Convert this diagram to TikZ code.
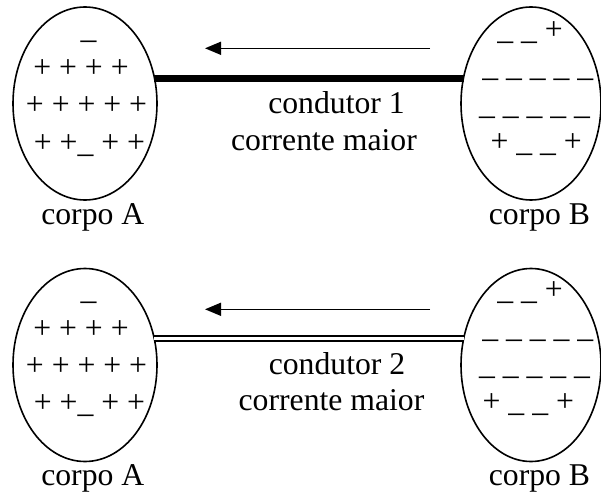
\documentclass[tikz,border=0pt]{standalone}
\usepackage{fontspec}
\setmainfont{Liberation Serif}
\usetikzlibrary{arrows.meta,shapes.geometric}
\begin{document}
\begin{tikzpicture}[x=1pt,y=-1pt,
  font=\fontsize{31.7}{38}\selectfont,
  body/.style={draw,ellipse,line width=1.6pt,inner sep=0pt,outer sep=0pt},
  bodyA/.style={body,minimum width=144pt,minimum height=193pt},
  bodyB/.style={body,minimum width=140pt,minimum height=193pt},
  txt/.style={anchor=base,inner sep=0pt,outer sep=0pt},
  flow/.style={line width=1.5pt,-{Triangle[length=16pt,width=13pt]}},
  thickwire/.style={line width=7pt},
  doublewire/.style={double,line width=2.2pt,double distance=3.2pt}]
\useasboundingbox (0,0) rectangle (601,497);

% ---------- top panel ----------
\node[bodyA] (A1) at (85,103.5) {};
\node[bodyB] (B1) at (531,103.5) {};
\node[txt] (a1r0) at (88.5,39) {\_};
\node[txt] (a1r1) at (81,78) {+ + + +};
\node[txt] (a1r2) at (86.5,115) {+ + + + +};
\node[txt] (a1r3) at (89.5,152) {+ +\_ + +};
\node[txt] (b1r0) at (530,39.3) {\_ \_ +};
\node[txt] (b1r1) at (537.8,77) {\_ \_ \_ \_ \_};
\node[txt] (b1r2) at (534.5,114.3) {\_ \_ \_ \_ \_};
\node[txt] (b1r3) at (536.2,151) {+ \_ \_ +};
\node[txt] (ca1) at (92.8,224.3) {corpo A};
\node[txt] (cb1) at (539.5,224.3) {corpo B};
\draw[thickwire] (A1.20) -- (A1.20 -| B1.159.47);
\coordinate (f1s) at (430,48.3);
\coordinate (f1e) at (205,48.3);
\draw[flow] (f1s) -- (f1e);
\node[txt] (c1) at (336.5,114) {condutor 1};
\node[txt] (m1) at (324,150) {corrente maior};

% ---------- bottom panel ----------
\node[bodyA] (A2) at (85,365) {};
\node[bodyB] (B2) at (531,365) {};
\node[txt] (a2r0) at (88.5,299.5) {\_};
\node[txt] (a2r1) at (81,338.5) {+ + + +};
\node[txt] (a2r2) at (86.5,375.5) {+ + + + +};
\node[txt] (a2r3) at (89.5,412.5) {+ +\_ + +};
\node[txt] (b2r0) at (530,299.6) {\_ \_ +};
\node[txt] (b2r1) at (537.8,337.3) {\_ \_ \_ \_ \_};
\node[txt] (b2r2) at (534.5,374.6) {\_ \_ \_ \_ \_};
\node[txt] (b2r3) at (528.3,411.3) {+ \_ \_ +};
\node[txt] (ca2) at (92.8,485.7) {corpo A};
\node[txt] (cb2) at (539.5,485.7) {corpo B};
\draw[doublewire] (A2.21) -- (A2.21 -| B2.158.46);
\coordinate (f2s) at (430,309.3);
\coordinate (f2e) at (205,309.3);
\draw[flow] (f2s) -- (f2e);
\node[txt] (c2) at (337,374) {condutor 2};
\node[txt] (m2) at (331.5,410) {corrente maior};
\end{tikzpicture}
\end{document}
